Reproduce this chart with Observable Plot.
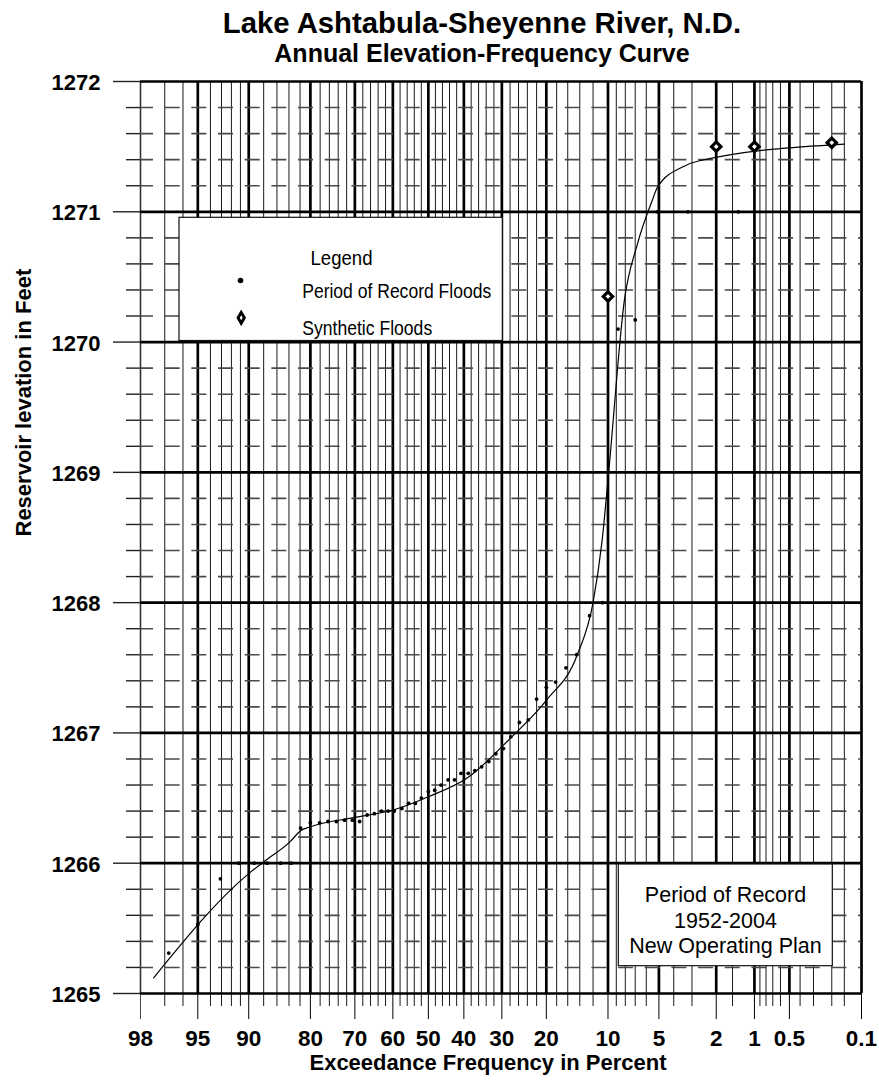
<!DOCTYPE html>
<html><head><meta charset="utf-8">
<script src="https://cdn.jsdelivr.net/npm/d3@7"></script>
<script src="https://cdn.jsdelivr.net/npm/@observablehq/plot@0.6"></script>
<style>
html,body{margin:0;padding:0;background:#fff;overflow:hidden;}
#wrap{position:relative;width:879px;height:1082px;font-family:"Liberation Sans",Arial,sans-serif;}
#header{position:relative;height:70px;}
.t{position:absolute;left:85px;width:794px;text-align:center;font-weight:bold;white-space:nowrap;color:#000;}
#chart svg{display:block;}
</style></head><body>
<div id="wrap">
<div id="header">
<div class="t" style="top:7.9px;font-size:29.3px;line-height:29.3px">Lake Ashtabula-Sheyenne River, N.D.</div>
<div class="t" style="top:41.1px;font-size:25px;line-height:25px">Annual Elevation-Frequency Curve</div>
</div>
<div id="chart"></div>
</div>
<script>
// ---- data ----
const majorTicks = [98, 95, 90, 80, 70, 60, 50, 40, 30, 20, 10, 5, 2, 1, 0.5, 0.1];
const tickLabels = ["98", "95", "90", "80", "70", "60", "50", "40", "30", "20", "10", "5", "2", "1", "0.5", "0.1"];
const minorTicks = [97, 96, 94, 93, 92, 91, 88, 86, 84, 82, 78, 76, 74, 72, 68, 66, 64, 62, 58, 56, 54, 52,
  48, 46, 44, 42, 38, 36, 34, 32, 28, 26, 24, 22, 18, 16, 14, 12, 9, 8, 7, 6, 4, 3, 1.5, 0.9, 0.8, 0.7, 0.6,
  0.4, 0.3, 0.2, 0.15];
const elevTicks = [1265, 1266, 1267, 1268, 1269, 1270, 1271, 1272];
const elevMinor = [1265.2, 1265.4, 1265.6, 1265.8, 1266.2, 1266.4, 1266.6, 1266.8, 1267.2, 1267.4, 1267.6, 1267.8,
  1268.2, 1268.4, 1268.6, 1268.8, 1269.2, 1269.4, 1269.6, 1269.8, 1270.2, 1270.4, 1270.6, 1270.8,
  1271.2, 1271.4, 1271.6, 1271.8];

// Period of record floods (exceedance %, elevation ft)
const recordPct = [96.8, 95.0, 93.1, 91.2, 89.3, 87.5, 85.4, 83.6, 81.9, 80.0, 78.1, 76.3, 74.4, 72.5, 70.6, 68.8,
  66.9, 65.0, 63.1, 61.3, 59.6, 57.5, 55.6, 53.7, 52.0, 50.0, 48.2, 46.4, 44.4, 42.6, 40.8, 38.8, 37.0, 35.2,
  33.3, 31.5, 29.6, 27.8, 25.8, 23.8, 22.0, 20.0, 18.2, 16.3, 14.5, 12.5, 10.7, 8.8, 7.0, 5.1, 3.2, 1.35];
const recordElev = [1265.31, 1265.53, 1265.88, 1266.00, 1266.00, 1266.00, 1266.00, 1266.00, 1266.27, 1266.31,
  1266.31, 1266.32, 1266.32, 1266.33, 1266.33, 1266.32, 1266.37, 1266.38, 1266.40, 1266.40, 1266.40, 1266.42,
  1266.46, 1266.46, 1266.50, 1266.55, 1266.56, 1266.60, 1266.64, 1266.64, 1266.69, 1266.69, 1266.71, 1266.74,
  1266.78, 1266.84, 1266.88, 1266.97, 1267.08, 1267.10, 1267.26, 1267.35, 1267.39, 1267.50, 1267.60, 1267.90,
  1268.00, 1270.10, 1270.17, 1271.00, 1271.00, 1271.00];

// Synthetic floods
const synthPct = [10, 2, 1, 0.2];
const synthElev = [1270.35, 1271.50, 1271.50, 1271.53];

// Fitted elevation-frequency curve
const curvePct = [97.5, 90.0, 88.0, 83.7, 81.9, 80.0, 70.3, 59.7, 50.0, 38.8, 27.9, 20.0, 14.4, 12.0, 10.75, 9.9,
  8.1, 6.8, 5.5, 5.1, 3.4, 2.7, 0.15];
const curveElev = [1265.12, 1265.92, 1266.01, 1266.17, 1266.25, 1266.28, 1266.35, 1266.41, 1266.51, 1266.66,
  1266.96, 1267.25, 1267.60, 1268.00, 1268.48, 1269.01, 1270.32, 1270.75, 1271.09, 1271.19, 1271.35, 1271.39,
  1271.52];

const legendTitle = "Legend";
const legendItems = ["Period of Record Floods", "Synthetic Floods"];
const noteLines = "Period of Record\n1952-2004\nNew Operating Plan";
const xTitle = "Exceedance Frequency in Percent";
const yTitle = "Reservoir levation in Feet";

// ---- normal probability transform ----
function invNorm(p) {
  const a = [-3.969683028665376e+01, 2.209460984245205e+02, -2.759285104469687e+02, 1.383577518672690e+02, -3.066479806614716e+01, 2.506628277459239e+00];
  const b = [-5.447609879822406e+01, 1.615858368580409e+02, -1.556989798598866e+02, 6.680131188771972e+01, -1.328068155288572e+01];
  const c = [-7.784894002430293e-03, -3.223964580411365e-01, -2.400758277161838e+00, -2.549732539343734e+00, 4.374664141464968e+00, 2.938163982698783e+00];
  const d = [7.784695709041462e-03, 3.224671290700398e-01, 2.445134137142996e+00, 3.754408661907416e+00];
  const pl = 0.02425, ph = 1 - pl;
  let q, r;
  if (p < pl) {
    q = Math.sqrt(-2 * Math.log(p));
    return (((((c[0]*q+c[1])*q+c[2])*q+c[3])*q+c[4])*q+c[5]) / ((((d[0]*q+d[1])*q+d[2])*q+d[3])*q+1);
  }
  if (p <= ph) {
    q = p - 0.5; r = q * q;
    return (((((a[0]*r+a[1])*r+a[2])*r+a[3])*r+a[4])*r+a[5])*q / (((((b[0]*r+b[1])*r+b[2])*r+b[3])*r+b[4])*r+1);
  }
  q = Math.sqrt(-2 * Math.log(1 - p));
  return -(((((c[0]*q+c[1])*q+c[2])*q+c[3])*q+c[4])*q+c[5]) / ((((d[0]*q+d[1])*q+d[2])*q+d[3])*q+1);
}
const zOf = p => invNorm(1 - p / 100);

const records = recordPct.map((p, i) => ({p, v: recordElev[i]}));
const synth = synthPct.map((p, i) => ({p, v: synthElev[i]}));
const curve = curvePct.map((p, i) => ({p, v: curveElev[i]}));

// ---- layout ----
const W = 879, H = 1012, ML = 140, MR = 18, MT = 11, MB = 89;
const FW = W - ML - MR;
const font = "'Liberation Sans', Arial, sans-serif";

const chart = Plot.plot({
  width: W, height: H,
  marginLeft: ML, marginRight: MR, marginTop: MT, marginBottom: MB,
  style: {fontFamily: font, background: "white", overflow: "visible", color: "black"},
  x: {type: "linear", domain: [zOf(98), zOf(0.1)], axis: null},
  y: {type: "linear", domain: [1265, 1272], axis: null},
  marks: [
    // vertical probability grid
    Plot.ruleX(minorTicks, {x: d => zOf(d), insetBottom: -13, stroke: "#1a1a1a", strokeWidth: 1}),
    Plot.ruleX(majorTicks, {x: d => zOf(d), insetBottom: -26, stroke: d => d === 98 ? "#444" : "#000",
      strokeWidth: 1}),
    Plot.ruleX(majorTicks.filter(d => d !== 98), {x: d => zOf(d), stroke: "#000", strokeWidth: 2.7}),
    Plot.ruleX([98], {x: d => zOf(d), stroke: "#333", strokeWidth: 1.6}),
    // elevation ticks left of the frame
    Plot.ruleY(elevTicks, {y: d => d, insetLeft: -27, insetRight: FW, stroke: "#222", strokeWidth: 1.4}),
    Plot.ruleY(elevMinor, {y: d => d, insetLeft: -14, insetRight: FW, stroke: "#222", strokeWidth: 1.4}),
    // horizontal grid
    Plot.ruleY(elevMinor, {y: d => d, stroke: "#4a4a4a", strokeWidth: 1.6, strokeDasharray: "15,11.67", strokeDashoffset: 2}),
    Plot.ruleY(elevTicks, {y: d => d, stroke: "#000", strokeWidth: 2.7}),
    // legend box
    Plot.rect([0], {insetLeft: 39, insetRight: 358.7, insetTop: 136.3, insetBottom: 652.5,
      fill: "white", stroke: "#111", strokeWidth: 1.2}),
    // note box
    Plot.rect([0], {insetLeft: 478.3, insetRight: 28.7, insetTop: 783, insetBottom: 27.3,
      fill: "white", stroke: "#111", strokeWidth: 1.2}),
    // curve and data
    Plot.line(curve, {x: d => zOf(d.p), y: "v", curve: "monotone-x", stroke: "#000", strokeWidth: 1.2}),
    Plot.dot(records, {x: d => zOf(d.p), y: "v", r: 1.9, fill: "#000", stroke: "none"}),
    Plot.dot(synth, {x: d => zOf(d.p), y: "v", symbol: "diamond2", r: 4.2, fill: "white", stroke: "#000", strokeWidth: 3.2}),
    // legend contents
    Plot.text([legendTitle], {frameAnchor: "top-left", dx: 170, dy: 168.3, textAnchor: "start",
      fontSize: 21, fill: "#000"}),
    Plot.dot([0], {frameAnchor: "top-left", dx: 100, dy: 199, r: 2.8, fill: "#000", stroke: "none"}),
    Plot.text([legendItems[0]], {frameAnchor: "top-left", dx: 161.7, dy: 201.6, textAnchor: "start",
      fontSize: 21, fill: "#000"}),
    Plot.dot([0], {frameAnchor: "top-left", dx: 100.7, dy: 236.3, symbol: "diamond", r: 3.3, fill: "white",
      stroke: "#000", strokeWidth: 2.9}),
    Plot.text([legendItems[1]], {frameAnchor: "top-left", dx: 161.7, dy: 239, textAnchor: "start",
      fontSize: 21, fill: "#000"}),
    // note text
    Plot.text([noteLines], {frameAnchor: "top-left", dx: 585, dy: 802, textAnchor: "middle", lineAnchor: "top",
      lineHeight: 1.2, fontSize: 21.5, fill: "#000"}),
    // axis labels
    Plot.text(majorTicks, {x: d => zOf(d), text: (d, i) => tickLabels[i], frameAnchor: "bottom", dy: 52,
      fontSize: 22.5, fontWeight: "bold", fill: "#000"}),
    Plot.text(elevTicks, {y: d => d, text: d => String(d), frameAnchor: "left", dx: -40, dy: 1.5,
      textAnchor: "end", fontSize: 22, fontWeight: "bold", fill: "#000"}),
    Plot.text([xTitle], {frameAnchor: "bottom", dx: -13, dy: 76.7, fontSize: 22, fontWeight: "bold", fill: "#000"}),
    Plot.text([yTitle], {frameAnchor: "left", dx: -117, dy: -1, rotate: -90, fontSize: 22, fontWeight: "bold", fill: "#000"})
  ]
});
document.getElementById("chart").appendChild(chart);

// condensed legend lettering as in the original
const legendLengths = new Map([[legendTitle, 62], [legendItems[0], 189], [legendItems[1], 130]]);
d3.select(chart).selectAll("text").each(function() {
  const t = this.textContent;
  if (legendLengths.has(t)) {
    d3.select(this).attr("textLength", legendLengths.get(t)).attr("lengthAdjust", "spacingAndGlyphs");
  }
});
</script>
</body></html>
